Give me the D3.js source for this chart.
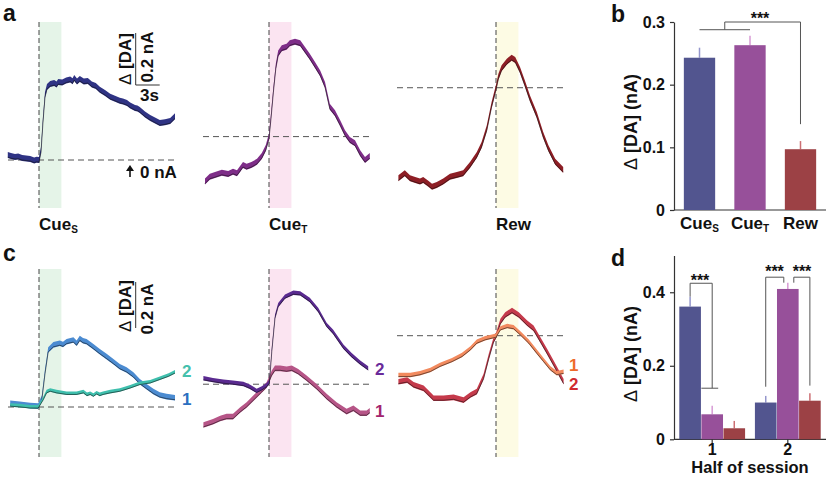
<!DOCTYPE html>
<html><head><meta charset="utf-8">
<script src="https://cdn.jsdelivr.net/npm/d3@7"></script>
<style>
body{margin:0;background:#fff}
svg{display:block}
text{font-family:"Liberation Sans",Arial,sans-serif;font-weight:bold;fill:#111}
tspan.sym{font-weight:normal}
</style></head>
<body><svg width="828" height="477"></svg>
<script>
// ---------------- DATA ----------------
// traces: [time (s) from event, mean ΔDA (nA)]
const traceCueS = [[-3.9,0.019],[-3.5,0.015],[-3.0,0.012],[-2.6,0.013],[-2.1,0.008],[-1.6,0.006],[-1.1,0.004],[-0.6,-0.002],[-0.3,0.001],[0,0],[0.25,0.038],[0.5,0.154],[0.75,0.25],[1.0,0.281],[1.4,0.292],[1.9,0.296],[2.2,0.29],[2.4,0.3],[2.9,0.298],[3.4,0.306],[3.9,0.31],[4.2,0.303],[4.4,0.315],[4.75,0.302],[5.1,0.312],[5.6,0.302],[6.1,0.304],[6.6,0.29],[7.1,0.285],[7.6,0.27],[8.25,0.258],[8.9,0.243],[9.5,0.236],[10.1,0.228],[10.5,0.225],[11,0.219],[11.4,0.21],[12,0.2],[12.3,0.198],[12.6,0.192],[13.25,0.175],[13.9,0.162],[14.5,0.152],[15.1,0.142],[15.75,0.145],[16.4,0.15],[17,0.168]];
const traceCueT = [[-8,-0.083],[-7.4,-0.064],[-6.75,-0.058],[-5.9,-0.049],[-5.1,-0.054],[-4.5,-0.045],[-4.0,-0.051],[-3.25,-0.019],[-2.8,-0.026],[-2.2,-0.019],[-1.5,-0.007],[-0.9,0.015],[-0.4,0.046],[0,0.09],[0.25,0.167],[0.55,0.269],[0.85,0.359],[1.15,0.41],[1.6,0.43],[2.2,0.436],[2.6,0.449],[3.25,0.455],[3.9,0.449],[4.5,0.423],[5.1,0.397],[5.75,0.365],[6.4,0.333],[7.0,0.288],[7.6,0.205],[8.25,0.18],[8.9,0.141],[9.5,0.103],[10.1,0.077],[10.75,0.064],[11.4,0.026],[12,0],[12.6,0.015]];
const traceRew = [[-12.2,-0.07],[-11.4,-0.051],[-10.75,-0.07],[-10.1,-0.077],[-9.5,-0.083],[-9.1,-0.077],[-8.5,-0.09],[-8.0,-0.103],[-7.4,-0.096],[-6.6,-0.083],[-5.75,-0.064],[-4.9,-0.058],[-4.1,-0.051],[-3.25,-0.019],[-2.4,0.019],[-1.8,0.058],[-1.15,0.122],[-0.55,0.212],[0,0.278],[0.3,0.32],[0.7,0.353],[1.35,0.378],[1.95,0.393],[2.4,0.385],[3.0,0.346],[3.6,0.295],[4.25,0.237],[5.1,0.173],[5.9,0.096],[6.55,0.045],[7.4,-0.007],[8.4,-0.038]];
const refA = [0, 0.09, 0.278];   // dashed reference levels (nA)

const traceCueS1 = [[-3.6,0.016],[-2.4,0.012],[-1.1,0.006],[-0.1,0.004],[0.35,0.038],[0.75,0.153],[1.15,0.248],[1.8,0.27],[2.6,0.277],[3.0,0.272],[3.45,0.284],[4.3,0.291],[4.7,0.277],[5.1,0.298],[5.5,0.288],[5.95,0.284],[6.8,0.262],[7.6,0.24],[8.45,0.219],[9.3,0.197],[10.1,0.175],[10.95,0.161],[11.8,0.139],[12.6,0.11],[13.45,0.088],[14.3,0.067],[15.1,0.052],[15.95,0.045],[17,0.04]];
const traceCueS2 = [[-3.6,0.009],[-2.4,0.006],[-1.1,0.001],[-0.1,0.001],[0.55,0.038],[0.95,0.067],[1.4,0.074],[2.2,0.067],[3.45,0.06],[4.7,0.06],[5.55,0.067],[6.0,0.055],[6.4,0.06],[6.8,0.052],[7.2,0.062],[7.6,0.055],[8.0,0.06],[8.9,0.067],[10.1,0.074],[11.4,0.088],[12.6,0.103],[13.9,0.11],[15.1,0.125],[16.2,0.139],[17,0.153]];
const traceCueT2 = [[-8.2,0.125],[-7.0,0.117],[-5.7,0.11],[-4.5,0.106],[-3.2,0.1],[-2.4,0.088],[-1.55,0.07],[-0.9,0.081],[-0.3,0.095],[0.05,0.11],[0.35,0.248],[0.75,0.393],[1.15,0.443],[2.0,0.48],[3.05,0.497],[3.9,0.494],[5.1,0.465],[6.15,0.422],[7.2,0.357],[8.0,0.327],[9.3,0.262],[10.3,0.226],[11.4,0.193],[12.4,0.168]];
const traceCueT1 = [[-8.2,-0.078],[-7.0,-0.064],[-6.1,-0.05],[-5.3,-0.042],[-4.5,-0.042],[-3.6,-0.013],[-2.8,0.009],[-1.75,0.045],[-0.9,0.074],[-0.3,0.095],[0.35,0.147],[0.75,0.168],[1.4,0.168],[2.2,0.164],[2.85,0.168],[3.65,0.153],[4.7,0.125],[5.95,0.088],[7.2,0.045],[8.45,0.009],[9.7,-0.02],[10.55,-0.006],[11.4,-0.027],[12.2,-0.027],[12.6,-0.016]];
const traceRew1 = [[-12.2,0.139],[-10.7,0.139],[-9.5,0.147],[-8.2,0.161],[-7.0,0.183],[-5.5,0.204],[-4.25,0.226],[-3.2,0.255],[-2.4,0.284],[-1.35,0.299],[-0.5,0.306],[0,0.31],[0.55,0.342],[1.4,0.352],[2.2,0.347],[3.05,0.32],[4.1,0.284],[5.1,0.24],[5.95,0.204],[6.8,0.168],[7.6,0.147],[8.45,0.153]];
const traceRew2 = [[-12.2,0.11],[-11.1,0.117],[-10.3,0.096],[-9.05,0.081],[-7.8,0.038],[-6.55,0.038],[-5.3,0.042],[-4.05,0.03],[-3.2,0.052],[-2.4,0.067],[-1.55,0.132],[-0.9,0.219],[-0.3,0.291],[0,0.31],[0.55,0.371],[1.15,0.4],[2.0,0.419],[2.85,0.4],[3.9,0.364],[4.7,0.342],[5.55,0.291],[6.4,0.24],[7.2,0.19],[8.45,0.11]];
const refC = [0, 0.099, 0.31];

const barCats = ["CueS", "CueT", "Rew"];
const barLabels = [["Cue","S"],["Cue","T"],["Rew",""]];
const barB = [0.243, 0.263, 0.097];
const errB = [0.259, 0.278, 0.110];
const tickB = [0, 0.1, 0.2, 0.3];
const halves = ["1", "2"];
const barD = [[0.361, 0.068, 0.030], [0.100, 0.409, 0.105]];
const errD = [[0.388, 0.091, 0.050], [0.118, 0.426, 0.125]];
const tickD = [0, 0.2, 0.4];

// ---------------- STYLE ----------------
const barColor = {CueS:"#52558f", CueT:"#97509a", Rew:"#9c4145"};
const errColor = {CueS:"#9496cc", CueT:"#d79ad5", Rew:"#cc6f73"};
const shadeColor = ["#e5f4e8", "#fbe4f1", "#fdfbe4"];
const svg = d3.select("svg");

function trace(g, data, x, y, color, h) {
  const area = d3.area().x(d => x(d[0])).y0(d => y(d[1]) + h).y1(d => y(d[1]) - h);
  g.append("path").attr("d", area(data)).attr("fill", color);
  const line = d3.line().x(d => x(d[0])).y(d => y(d[1]) + h * 0.7);
  g.append("path").attr("d", line(data)).attr("fill", "none").attr("stroke", "#111").attr("stroke-width", 0.7).attr("opacity", 0.8);
}

// ---------------- TRACE PANELS ----------------
const evX = [39, 269, 496];
const hx = [[8, 175], [203, 372], [397, 565]];
const win = 2.8;
function makeX(i){ return d3.scaleLinear().domain([0, 1]).range([evX[i], evX[i] + 8]); }
const yA = d3.scaleLinear().domain([0, 0.2]).range([160, 108]);
const yC = d3.scaleLinear().domain([0, 0.2]).range([407, 361]);

function frame(i, yTop, yBot, yScale, ref) {
  const x = makeX(i);
  svg.append("rect").attr("x", x(0)).attr("y", yTop).attr("width", x(win) - x(0)).attr("height", yBot - yTop).attr("fill", shadeColor[i]);
  svg.append("line").attr("x1", x(0)).attr("x2", x(0)).attr("y1", yTop).attr("y2", yBot)
    .attr("stroke", "#444").attr("stroke-width", 1).attr("stroke-dasharray", "5,3");
  svg.append("line").attr("x1", hx[i][0]).attr("x2", hx[i][1]).attr("y1", yScale(ref)).attr("y2", yScale(ref))
    .attr("stroke", "#555").attr("stroke-width", 1).attr("stroke-dasharray", "6,4");
  return x;
}

// panel a
const aTr = [[traceCueS, "#2f3384"], [traceCueT, "#7e2d88"], [traceRew, "#8e1e25"]];
aTr.forEach((t, i) => {
  const x = frame(i, 22, 208, yA, refA[i]);
  trace(svg.append("g"), t[0], x, yA, t[1], 3);
});
// panel c
const cTr = [
  [[traceCueS1, "#4b8bd1", 2.8], [traceCueS2, "#3fbfad", 1.8]],
  [[traceCueT1, "#b65587", 2.8], [traceCueT2, "#5a2a90", 2.2]],
  [[traceRew2, "#c53a4b", 2.8], [traceRew1, "#f28a5e", 2.2]]
];
cTr.forEach((set, i) => {
  const x = frame(i, 269, 457, yC, refC[i]);
  set.forEach(t => trace(svg.append("g"), t[0], x, yC, t[1], t[2]));
});

// trace labels
const cLab = [
  [182, 377, "2", "#45c0ac"], [182, 405, "1", "#2b6fc0"],
  [375, 375, "2", "#6a2a9a"], [375, 417, "1", "#a3246e"],
  [569, 371, "1", "#ee6a2c"], [569, 390, "2", "#d02a30"]
];
cLab.forEach(l => svg.append("text").attr("x", l[0]).attr("y", l[1]).attr("font-size", 17).style("fill", l[3]).text(l[2]));

// event labels under panel a
[["Cue","S"],["Cue","T"],["Rew",""]].forEach((l, i) => {
  const t = svg.append("text").attr("x", evX[i]).attr("y", 230).attr("font-size", 17);
  t.append("tspan").text(l[0]);
  if (l[1]) t.append("tspan").attr("font-size", 10).attr("dy", 3).text(l[1]);
});

// scale bars
const sx = 135.7;
const xs = makeX(0);
svg.append("path").attr("d", `M${sx},${yA(0.2) - 75}V${yA(0) - 75}H${sx + (xs(3) - xs(0))}`)
  .attr("fill", "none").attr("stroke", "#333").attr("stroke-width", 1);
function rotText(x, y, s, fs) {
  const t = svg.append("text").attr("transform", `translate(${x},${y}) rotate(-90)`).attr("text-anchor", "middle").attr("font-size", fs || 17);
  if (s.startsWith("Δ")) {
    t.append("tspan").attr("class", "sym").text("Δ");
    t.append("tspan").text(s.slice(1));
  } else t.text(s);
}
rotText(131, 59, "Δ [DA]");
rotText(153, 57, "0.2 nA");
svg.append("text").attr("x", 140).attr("y", 101).attr("font-size", 17).text("3s");
svg.append("path").attr("d", `M${sx},${yC(0.2) - 79}V${yC(0) - 79}`).attr("stroke", "#333").attr("stroke-width", 1);
rotText(131, 306, "Δ [DA]");
rotText(153, 309, "0.2 nA");
// 0 nA arrow
svg.append("line").attr("x1", 130).attr("x2", 130).attr("y1", 177).attr("y2", 170).attr("stroke", "#111").attr("stroke-width", 1.6);
svg.append("path").attr("d", "M126,171L130,165L134,171Z").attr("fill", "#111");
svg.append("text").attr("x", 140).attr("y", 178).attr("font-size", 17).text("0 nA");

// panel letters
[["a", 3, 21], ["b", 611, 22], ["c", 3, 261], ["d", 611, 266]].forEach(p =>
  svg.append("text").attr("x", p[1]).attr("y", p[2]).attr("font-size", 23).text(p[0]));

// ---------------- BAR PANEL b ----------------
const yB = d3.scaleLinear().domain([0, 0.3]).range([210, 22]);
const xB = d3.scaleBand().domain(barCats).range([674, 826]).paddingInner(0.38).paddingOuter(0.195);
function yAxis(scale, ticks) {
  const g = svg.append("g").attr("transform", "translate(674,0)")
    .call(d3.axisLeft(scale).tickValues(ticks).tickSize(4).tickSizeOuter(0).tickPadding(5)
      .tickFormat(d => d === 0 ? "0" : d3.format(".1f")(d)));
  g.selectAll("text").attr("font-size", 16).attr("font-family", null).style("fill", "#111");
  g.selectAll("line,path").attr("stroke", "#333").attr("stroke-width", 1.2);
  return g;
}
yAxis(yB, tickB);
svg.append("line").attr("x1", 674).attr("x2", 826).attr("y1", yB(0)).attr("y2", yB(0)).attr("stroke", "#333").attr("stroke-width", 1.2);
barCats.forEach((c, i) => {
  const cx = xB(c) + xB.bandwidth() / 2;
  svg.append("line").attr("x1", cx).attr("x2", cx).attr("y1", yB(barB[i])).attr("y2", yB(errB[i])).attr("stroke", errColor[c]).attr("stroke-width", 1.5);
  svg.append("rect").attr("x", xB(c)).attr("y", yB(barB[i])).attr("width", xB.bandwidth()).attr("height", yB(0) - yB(barB[i])).attr("fill", barColor[c]);
  const t = svg.append("text").attr("x", cx).attr("y", 229).attr("text-anchor", "middle").attr("font-size", 17);
  t.append("tspan").text(barLabels[i][0]);
  if (barLabels[i][1]) t.append("tspan").attr("font-size", 10).attr("dy", 3).text(barLabels[i][1]);
});
{
  const cS = xB("CueS") + xB.bandwidth() / 2, cT = xB("CueT") + xB.bandwidth() / 2, cR = xB("Rew") + xB.bandwidth() / 2;
  const mid = (cS + cT) / 2;
  svg.append("path").attr("d", `M${cS},${yB(0.2877)}H${cT}M${mid},${yB(0.2877)}V${yB(0.3)}H${cR}V${yB(0.137)}`)
    .attr("fill", "none").attr("stroke", "#555").attr("stroke-width", 1);
  svg.append("text").attr("x", 760).attr("y", 24).attr("text-anchor", "middle").attr("font-size", 16).text("***");
}
rotText(637, 122, "Δ [DA] (nA)", 18);

// ---------------- BAR PANEL d ----------------
const yD = d3.scaleLinear().domain([0, 0.5]).range([439.3, 255.5]);
const xD0 = d3.scaleBand().domain(halves).range([674, 826]).paddingInner(0.13).paddingOuter(0.07);
const xD1 = d3.scaleBand().domain(barCats).range([0, xD0.bandwidth()]).paddingInner(0.02);
yAxis(yD, tickD);
svg.append("line").attr("x1", 674).attr("x2", 826).attr("y1", yD(0)).attr("y2", yD(0)).attr("stroke", "#333").attr("stroke-width", 1.2);
const cxD = (h, c) => xD0(h) + xD1(c) + xD1.bandwidth() / 2;
halves.forEach((h, hi) => {
  barCats.forEach((c, i) => {
    const cx = cxD(h, c);
    svg.append("line").attr("x1", cx).attr("x2", cx).attr("y1", yD(barD[hi][i])).attr("y2", yD(errD[hi][i])).attr("stroke", errColor[c]).attr("stroke-width", 1.5);
    svg.append("rect").attr("x", xD0(h) + xD1(c)).attr("y", yD(barD[hi][i])).attr("width", xD1.bandwidth()).attr("height", yD(0) - yD(barD[hi][i])).attr("fill", barColor[c]);
  });
  const gx = xD0(h) + xD0.bandwidth() / 2;
  svg.append("line").attr("x1", gx).attr("x2", gx).attr("y1", yD(0)).attr("y2", yD(0) + 4).attr("stroke", "#333").attr("stroke-width", 1.2);
  svg.append("text").attr("x", gx).attr("y", 454.5).attr("text-anchor", "middle").attr("font-size", 16).text(h);
});
svg.append("text").attr("x", 750).attr("y", 473).attr("text-anchor", "middle").attr("font-size", 16.5).text("Half of session");
rotText(637, 354, "Δ [DA] (nA)", 18);
{
  const s1 = cxD("1", "CueS"), t1 = cxD("1", "CueT");
  svg.append("path").attr("d", `M${s1},${yD(0.388)}V${yD(0.4245)}H${t1}V${yD(0.139)}M${xD0("1") + xD1("CueT")},${yD(0.139)}H${t1 + 6}`)
    .attr("fill", "none").attr("stroke", "#555").attr("stroke-width", 1);
  const s2 = cxD("2", "CueS"), t2 = cxD("2", "CueT"), r2 = cxD("2", "Rew");
  svg.append("path").attr("d", `M${s2},${yD(0.143)}V${yD(0.441)}H${t2 - 4}V${yD(0.426)}M${t2 + 6},${yD(0.426)}V${yD(0.441)}H${r2}V${yD(0.146)}`)
    .attr("fill", "none").attr("stroke", "#555").attr("stroke-width", 1);
  [[700, 286], [774.5, 276.5], [802, 276.5]].forEach(p =>
    svg.append("text").attr("x", p[0]).attr("y", p[1]).attr("text-anchor", "middle").attr("font-size", 16).text("***"));
}
</script></body></html>
